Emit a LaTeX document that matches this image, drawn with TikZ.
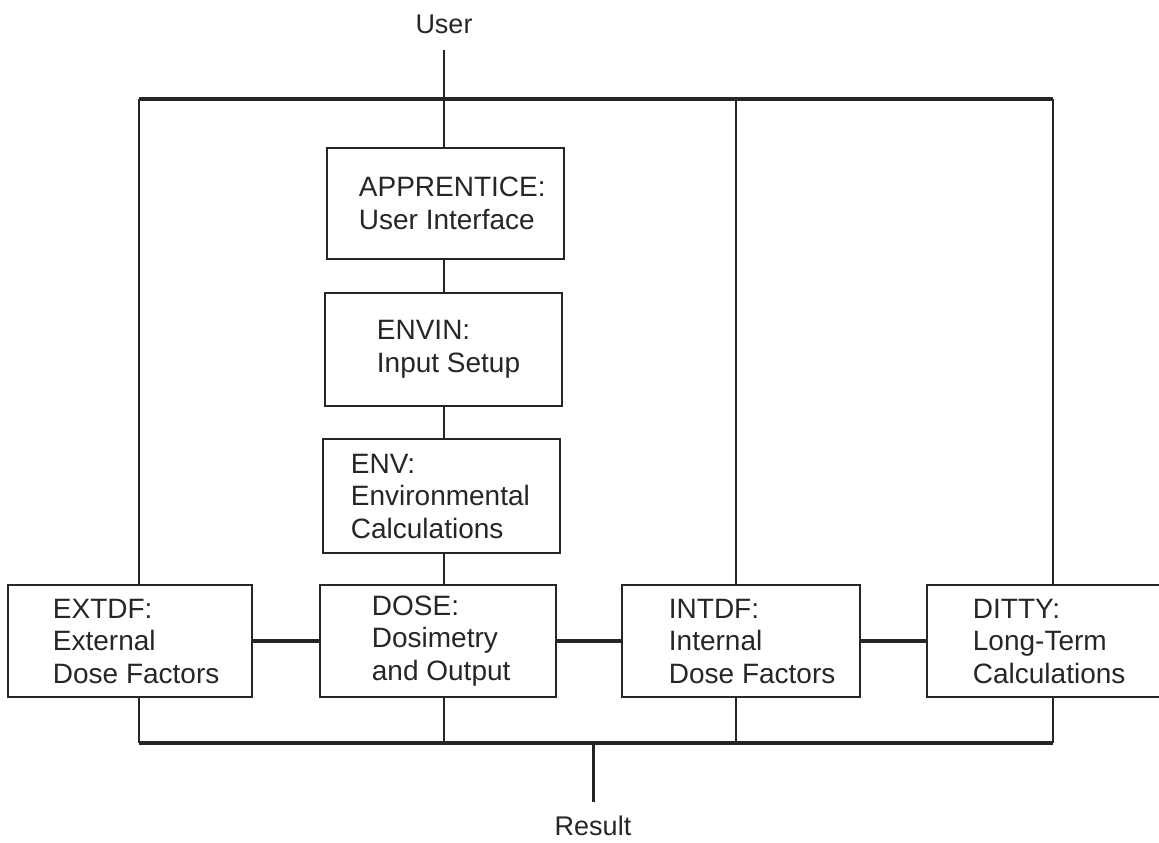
\documentclass[tikz,border=0pt]{standalone}
\usepackage{fontspec}
\setmainfont{Liberation Sans}
\begin{document}
\begin{tikzpicture}[x=1pt,y=-1pt,
  box/.style={draw=black!85, line width=2.6pt, inner sep=0pt, rectangle},
  lbl/.style={inner sep=0pt, anchor=west, align=left, text=black!85,
              font=\fontsize{28}{32.5}\selectfont},
  ttl/.style={inner sep=0pt, text=black!85, font=\fontsize{27}{32.5}\selectfont},
  bus/.style={draw=black!85, line width=4.2pt},
  vline/.style={draw=black!85, line width=2pt},
  hlink/.style={draw=black!85, line width=4.5pt}]
\useasboundingbox (0,0) rectangle (1159,843);

% boxes
\node[box, minimum width=237pt, minimum height=111pt] (app) at (445.5,203.5) {};
\node[box, minimum width=237pt, minimum height=113pt] (envin) at (443.5,349.5) {};
\node[box, minimum width=237pt, minimum height=114pt] (env) at (441.5,496) {};
\node[box, minimum width=244pt, minimum height=112pt] (extdf) at (130,641) {};
\node[box, minimum width=236pt, minimum height=112pt] (dose) at (438,641) {};
\node[box, minimum width=238pt, minimum height=112pt] (intdf) at (741,641) {};
\node[box, minimum width=242pt, minimum height=112pt] (ditty) at (1048,641) {};

% texts
\node[lbl] (appt) at ([xshift=33pt]app.west) {APPRENTICE:\\User Interface};
\node[lbl] (envint) at ([xshift=53pt]envin.west) {ENVIN:\\Input Setup};
\node[lbl] (envt) at ([xshift=29pt]env.west) {ENV:\\Environmental\\Calculations};
\node[lbl] (extdft) at ([xshift=46pt]extdf.west) {EXTDF:\\External\\Dose Factors};
\node[lbl] (doset) at ([xshift=53pt]dose.west) {DOSE:\\Dosimetry\\and Output};
\node[lbl] (intdft) at ([xshift=48pt]intdf.west) {INTDF:\\Internal\\Dose Factors};
\node[lbl] (dittyt) at ([xshift=47pt]ditty.west) {DITTY:\\Long-Term\\Calculations};

\node[ttl] (user) at (444,24) {User};
\node[ttl] (result) at (593,826) {Result};

% bus coordinates
\coordinate (tl) at (139,99);
\coordinate (tm) at (736,99);
\coordinate (tr) at (1053,99);
\coordinate (bl) at (139,743);
\coordinate (br) at (1053,743);
\coordinate (uend) at (444,50);
\coordinate (rs) at (593,743);
\coordinate (rend) at (593,802);

% buses
\draw[bus] (tl) -- (tr);
\draw[bus] (bl) -- (br);

% user / result lines
\draw[vline, line width=2.6pt] (uend) -- (uend |- app.north);
\draw[vline, line width=3pt] (rs) -- (rend);

% middle column
\draw[vline] (uend |- app.south) -- (uend |- envin.north);
\draw[vline] (uend |- envin.south) -- (uend |- env.north);
\draw[vline] (uend |- env.south) -- (uend |- dose.north);
\draw[vline] (uend |- dose.south) -- (uend |- bl);

% side columns
\draw[vline] (tl) -- (tl |- extdf.north);
\draw[vline] (tl |- extdf.south) -- (bl);
\draw[vline] (tm) -- (tm |- intdf.north);
\draw[vline] (tm |- intdf.south) -- (tm |- bl);
\draw[vline] (tr) -- (tr |- ditty.north);
\draw[vline] (tr |- ditty.south) -- (br);

% horizontal links
\draw[hlink] (extdf.east) -- (dose.west);
\draw[hlink] (dose.east) -- (intdf.west);
\draw[hlink] (intdf.east) -- (ditty.west);
\end{tikzpicture}
\end{document}
